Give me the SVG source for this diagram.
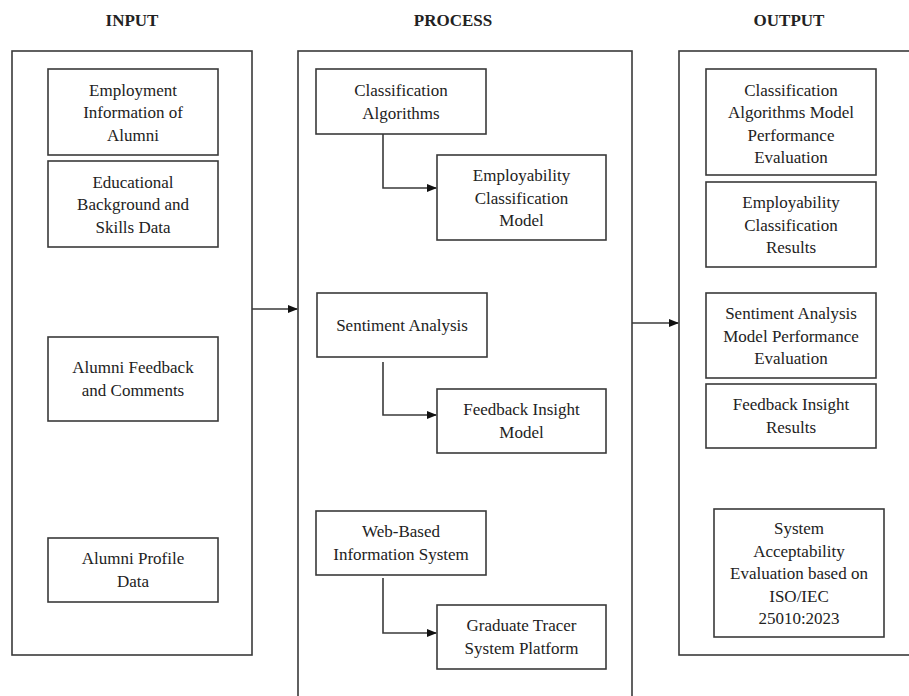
<svg xmlns="http://www.w3.org/2000/svg" width="909" height="696" viewBox="0 0 909 696">
<defs>
<style>
.frame{fill:none;stroke:#3a3a3a;stroke-width:1.6}
.box{fill:#fff;stroke:#3a3a3a;stroke-width:1.6}
.t{font-family:"Liberation Serif","DejaVu Serif",serif;font-size:17px;fill:#222;text-anchor:middle}
.h{font-family:"Liberation Serif","DejaVu Serif",serif;font-size:17px;font-weight:bold;fill:#222;text-anchor:middle}
.c{fill:none;stroke:#3a3a3a;stroke-width:1.6}
</style>
<marker id="ah" markerWidth="10" markerHeight="8" refX="9" refY="4" orient="auto" markerUnits="userSpaceOnUse">
<path d="M0,0 L10,4 L0,8 Z" fill="#111"/>
</marker>
</defs>
<rect width="909" height="696" fill="#fff"/>
<g id="titles">
<text class="h" x="132" y="26">INPUT</text>
<text class="h" x="453" y="26">PROCESS</text>
<text class="h" x="789" y="26">OUTPUT</text>
</g>
<g id="frame-input"><rect class="frame" x="12" y="51" width="240" height="604"/></g>
<g id="frame-process"><rect class="frame" x="298" y="51" width="334" height="660"/></g>
<g id="frame-output"><rect class="frame" x="679" y="51" width="250" height="604"/></g>

<g id="in1"><rect class="box" x="48" y="69" width="170" height="86"/>
<text class="t" x="133" y="95.5">Employment</text><text class="t" x="133" y="118">Information of</text><text class="t" x="133" y="140.5">Alumni</text></g>
<g id="in2"><rect class="box" x="48" y="161" width="170" height="86"/>
<text class="t" x="133" y="187.5">Educational</text><text class="t" x="133" y="210">Background and</text><text class="t" x="133" y="232.5">Skills Data</text></g>
<g id="in3"><rect class="box" x="48" y="337" width="170" height="84"/>
<text class="t" x="133" y="373">Alumni Feedback</text><text class="t" x="133" y="395.5">and Comments</text></g>
<g id="in4"><rect class="box" x="48" y="538" width="170" height="64"/>
<text class="t" x="133" y="564">Alumni Profile</text><text class="t" x="133" y="586.5">Data</text></g>

<g id="p1"><rect class="box" x="316" y="69" width="170" height="65"/>
<text class="t" x="401" y="96">Classification</text><text class="t" x="401" y="118.5">Algorithms</text></g>
<g id="p2"><rect class="box" x="437" y="155" width="169" height="85"/>
<text class="t" x="521.5" y="181">Employability</text><text class="t" x="521.5" y="203.5">Classification</text><text class="t" x="521.5" y="226">Model</text></g>
<g id="p3"><rect class="box" x="317" y="293" width="170" height="64"/>
<text class="t" x="402" y="331">Sentiment Analysis</text></g>
<g id="p4"><rect class="box" x="437" y="389" width="169" height="64"/>
<text class="t" x="521.5" y="415">Feedback Insight</text><text class="t" x="521.5" y="437.5">Model</text></g>
<g id="p5"><rect class="box" x="316" y="511" width="170" height="64"/>
<text class="t" x="401" y="537">Web-Based</text><text class="t" x="401" y="559.5">Information System</text></g>
<g id="p6"><rect class="box" x="437" y="605" width="169" height="64"/>
<text class="t" x="521.5" y="631">Graduate Tracer</text><text class="t" x="521.5" y="653.5">System Platform</text></g>

<g id="o1"><rect class="box" x="706" y="69" width="170" height="106"/>
<text class="t" x="791" y="95.5">Classification</text><text class="t" x="791" y="118">Algorithms Model</text><text class="t" x="791" y="140.5">Performance</text><text class="t" x="791" y="163">Evaluation</text></g>
<g id="o2"><rect class="box" x="706" y="182" width="170" height="85"/>
<text class="t" x="791" y="208">Employability</text><text class="t" x="791" y="230.5">Classification</text><text class="t" x="791" y="253">Results</text></g>
<g id="o3"><rect class="box" x="706" y="293" width="170" height="85"/>
<text class="t" x="791" y="319">Sentiment Analysis</text><text class="t" x="791" y="341.5">Model Performance</text><text class="t" x="791" y="364">Evaluation</text></g>
<g id="o4"><rect class="box" x="706" y="384" width="170" height="64"/>
<text class="t" x="791" y="410">Feedback Insight</text><text class="t" x="791" y="432.5">Results</text></g>
<g id="o5"><rect class="box" x="714" y="509" width="170" height="128"/>
<text class="t" x="799" y="534">System</text><text class="t" x="799" y="556.5">Acceptability</text><text class="t" x="799" y="579">Evaluation based on</text><text class="t" x="799" y="601.5">ISO/IEC</text><text class="t" x="799" y="624">25010:2023</text></g>

<g id="connectors">
<path class="c" d="M252,309 L297,309" marker-end="url(#ah)"/>
<path class="c" d="M632,323 L678,323" marker-end="url(#ah)"/>
<path class="c" d="M383,134 L383,188 L436,188" marker-end="url(#ah)"/>
<path class="c" d="M383,362 L383,415 L436,415" marker-end="url(#ah)"/>
<path class="c" d="M383,578 L383,633 L436,633" marker-end="url(#ah)"/>
</g>
</svg>
